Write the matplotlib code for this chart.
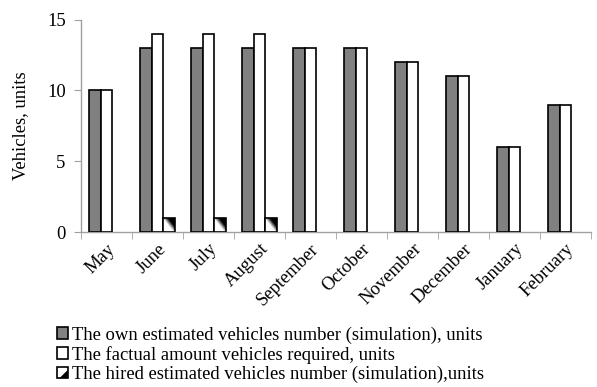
import numpy as np
import matplotlib
matplotlib.use("Agg")
import matplotlib.pyplot as plt
from matplotlib.patches import Rectangle, Polygon
from matplotlib.legend_handler import HandlerBase

months = ["May", "June", "July", "August", "September", "October",
          "November", "December", "January", "February"]
own_vehicles = [10, 13, 13, 13, 13, 13, 12, 11, 6, 9]
required_vehicles = [10, 14, 14, 14, 13, 13, 12, 11, 6, 9]
hired_vehicles = [0, 1, 1, 1, 0, 0, 0, 0, 0, 0]

series_labels = [
    "The own estimated vehicles number (simulation), units",
    "The factual amount vehicles required, units",
    "The hired estimated vehicles number (simulation),units",
]

FS = 13.4
plt.rcParams["font.family"] = ["Liberation Serif", "DejaVu Serif"]

fig = plt.figure(figsize=(5.97, 3.87), dpi=100)
ax = fig.add_axes([0.1357, 0.4005, 0.8543, 0.549])

x = np.arange(len(months))
w = 0.225
ax.bar(x - w, own_vehicles, w, color="#808080", edgecolor="black", linewidth=1.2, zorder=3)
ax.bar(x, required_vehicles, w, color="white", edgecolor="black", linewidth=1.2, zorder=3)

# hired bars only where a vehicle is actually hired
hx = np.array([xi for xi, v in zip(x, hired_vehicles) if v > 0])
hv = [v for v in hired_vehicles if v > 0]
hired = ax.bar(hx + w, hv, w, color="none", edgecolor="black", linewidth=1.2, zorder=4)

# diagonal white-to-black shading inside each hired bar
grad = np.add.outer(np.linspace(1, 0, 64), np.linspace(0, 1, 64))
grad = np.clip((grad - 0.9) * 2.2, 0, 1)
for rect in hired.patches:
    x0, y0 = rect.get_x(), rect.get_y()
    im = ax.imshow(grad, cmap="gray_r",
                   extent=[x0, x0 + rect.get_width(), y0, y0 + rect.get_height()],
                   aspect="auto", zorder=3.5, interpolation="bilinear", vmin=0, vmax=1)
    im.set_clip_path(rect)

ax.set_xlim(-0.5, len(months) - 0.5)
ax.set_ylim(0, 15)
ax.set_yticks([0, 5, 10, 15])
ax.set_xticks(x)
ax.set_xticklabels(months, rotation=45, ha="right", rotation_mode="anchor", fontsize=FS)
ax.set_xticks(np.arange(-0.5, len(months)), minor=True)
ax.tick_params(axis="x", which="major", length=0, pad=6)
ax.tick_params(axis="x", which="minor", length=5, color="#a0a0a0", direction="out")
ax.tick_params(axis="y", length=5, color="#a0a0a0", labelsize=FS, pad=6)
ax.set_ylabel("Vehicles, units", fontsize=FS, labelpad=13)

for side in ("top", "right"):
    ax.spines[side].set_visible(False)
for side in ("left", "bottom"):
    ax.spines[side].set_color("#a0a0a0")
    ax.spines[side].set_linewidth(1.0)


class HiredHandler(HandlerBase):
    def create_artists(self, legend, orig_handle, xdescent, ydescent,
                       width, height, fontsize, trans):
        s = min(width, height)
        x0 = -xdescent + (width - s) / 2
        y0 = -ydescent + (height - s) / 2
        sq = Rectangle((x0, y0), s, s, facecolor="white", edgecolor="black",
                       linewidth=1.2, transform=trans)
        tri = Polygon([(x0 + s, y0), (x0 + s, y0 + s * 0.75), (x0 + s * 0.25, y0)],
                      closed=True, facecolor="black", edgecolor="none", transform=trans)
        return [sq, tri]


h_own = Rectangle((0, 0), 1, 1, facecolor="#808080", edgecolor="black", linewidth=1.2)
h_req = Rectangle((0, 0), 1, 1, facecolor="white", edgecolor="black", linewidth=1.2)
h_hired = Rectangle((0, 0), 1, 1, facecolor="white", edgecolor="black", linewidth=1.2)

fig.legend([h_own, h_req, h_hired], series_labels,
           handler_map={h_hired: HiredHandler()},
           loc="upper left", bbox_to_anchor=(0.095, 0.157), bbox_transform=fig.transFigure,
           frameon=False, fontsize=FS, handlelength=0.6, handleheight=0.6,
           handletextpad=0.2, labelspacing=0.12, borderpad=0, borderaxespad=0)

fig.savefig("out.png", dpi=100)
